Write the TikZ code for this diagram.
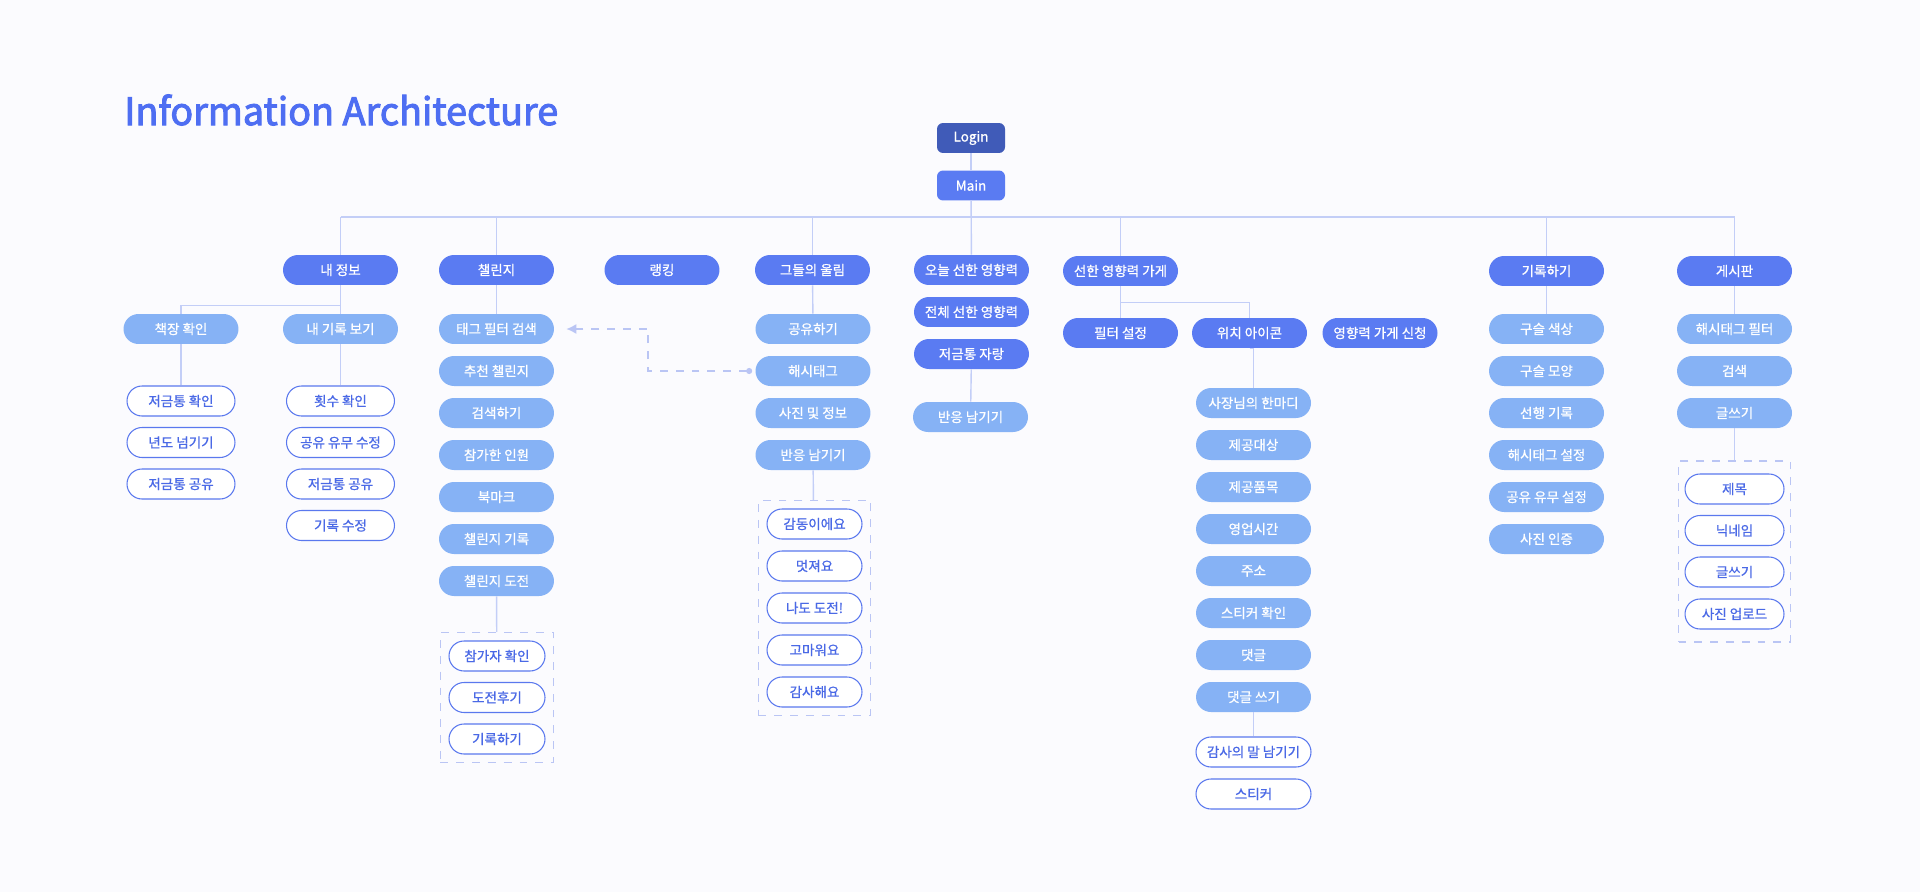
\documentclass[tikz,border=0pt]{standalone}
\usepackage{fontspec}
\setmainfont{Noto Sans CJK KR}
\newfontfamily\iafont[FakeBold=0.8]{Noto Sans CJK KR}
\newfontfamily\iatitlefont[FakeBold=2.6]{Noto Sans CJK KR}
\usetikzlibrary{arrows.meta,fit}

\definecolor{iabg}{HTML}{FBFBFE}
\definecolor{iatitle}{HTML}{4E6EF2}
\definecolor{ialogin}{HTML}{405BB8}
\definecolor{iadark}{HTML}{5A7BF2}
\definecolor{ialight}{HTML}{86B2F5}
\definecolor{iaout}{HTML}{5A78EE}
\definecolor{iaouttext}{HTML}{4A69E6}
\definecolor{ialink}{HTML}{C3CEF7}
\definecolor{iagroup}{HTML}{BAC5F4}

\tikzset{
  pill/.style={rounded corners=0.3cm, minimum width=2.3cm, minimum height=0.6cm,
    inner sep=0pt, font=\iafont\fontsize{7.7}{9}\selectfont},
  darkpill/.style={pill, fill=iadark, text=white},
  lightpill/.style={pill, fill=ialight, text=white},
  outpill/.style={pill, draw=iaout, line width=0.6pt, fill=white, text=iaouttext},
  topbox/.style={pill, rounded corners=0.12cm, minimum width=1.36cm, text=white},
  link/.style={draw=ialink, line width=0.8pt},
  groupbox/.style={draw=iagroup, line width=0.8pt, dash pattern=on 4.5pt off 4.5pt, inner sep=0.16cm},
}

\begin{document}
\begin{tikzpicture}[x=0.02cm,y=-0.02cm]
  \fill[iabg] (0,0) rectangle (1920,892);
  \useasboundingbox (0,0) rectangle (1920,892);

  \node[anchor=west, inner sep=0pt, text=iatitle, font=\iatitlefont\fontsize{21.5}{24}\selectfont] (title) at (124,110) {Information Architecture};

  % top
  \node[topbox, fill=ialogin] (login) at (971,138) {Login};
  \node[topbox, fill=iadark] (main) at (971,185.5) {Main};

  % first level
  \node[darkpill] (myinfo) at (340.5,270) {내 정보};
  \node[darkpill] (challenge) at (496.5,270) {챌린지};
  \node[darkpill] (ranking) at (662,270) {랭킹};
  \node[darkpill] (echo) at (812.5,270) {그들의 울림};
  \node[darkpill] (today) at (971.5,270) {오늘 선한 영향력};
  \node[darkpill] (store) at (1120.5,271) {선한 영향력 가게};
  \node[darkpill] (record) at (1546.5,271) {기록하기};
  \node[darkpill] (board) at (1734.5,271) {게시판};

  % 내 정보
  \node[lightpill] (shelf) at (181,329) {책장 확인};
  \node[lightpill] (myrec) at (340.5,329) {내 기록 보기};
  \node[outpill, minimum width=2.16cm] (piggy) at (181,401) {저금통 확인};
  \node[outpill, minimum width=2.16cm] (year) at (181,442.5) {년도 넘기기};
  \node[outpill, minimum width=2.16cm] (piggyshare) at (181,484) {저금통 공유};
  \node[outpill, minimum width=2.16cm] (count) at (340.5,401) {횟수 확인};
  \node[outpill, minimum width=2.16cm] (shareedit) at (340.5,442.5) {공유 유무 수정};
  \node[outpill, minimum width=2.16cm] (piggyshare2) at (340.5,484) {저금통 공유};
  \node[outpill, minimum width=2.16cm] (recedit) at (340.5,525.5) {기록 수정};

  % 챌린지
  \node[lightpill] (tagfilter) at (496.5,329) {태그 필터 검색};
  \node[lightpill] (recommend) at (496.5,371) {추천 챌린지};
  \node[lightpill] (searchdo) at (496.5,413) {검색하기};
  \node[lightpill] (joined) at (496.5,455) {참가한 인원};
  \node[lightpill] (bookmark) at (496.5,497) {북마크};
  \node[lightpill] (challrec) at (496.5,539) {챌린지 기록};
  \node[lightpill] (challtry) at (496.5,581) {챌린지 도전};
  \node[outpill, minimum width=1.92cm] (joincheck) at (497,656) {참가자 확인};
  \node[outpill, minimum width=1.92cm] (review) at (497,697.5) {도전후기};
  \node[outpill, minimum width=1.92cm] (dorecord) at (497,739) {기록하기};
  \node[groupbox, fit=(joincheck)(dorecord)] (trygroup) {};

  % 그들의 울림
  \node[lightpill] (share) at (813,329) {공유하기};
  \node[lightpill] (hashtag) at (813,371) {해시태그};
  \node[lightpill] (photo) at (813,413) {사진 및 정보};
  \node[lightpill] (react) at (813,455) {반응 남기기};
  \node[outpill, minimum width=1.9cm] (touched) at (814.5,524) {감동이에요};
  \node[outpill, minimum width=1.9cm] (cool) at (814.5,566) {멋져요};
  \node[outpill, minimum width=1.9cm] (metoo) at (814.5,608) {나도 도전!};
  \node[outpill, minimum width=1.9cm] (thankyou) at (814.5,650) {고마워요};
  \node[outpill, minimum width=1.9cm] (grateful) at (814.5,692) {감사해요};
  \node[groupbox, fit=(touched)(grateful)] (reactgroup) {};

  % 오늘 선한 영향력
  \node[darkpill] (total) at (971.5,312) {전체 선한 영향력};
  \node[darkpill] (piggyshow) at (971.5,354) {저금통 자랑};
  \node[lightpill] (react2) at (970.5,417) {반응 남기기};

  % 선한 영향력 가게
  \node[darkpill] (filter) at (1120.5,333) {필터 설정};
  \node[darkpill] (location) at (1249.5,333) {위치 아이콘};
  \node[darkpill] (apply) at (1380,333) {영향력 가게 신청};
  \node[lightpill] (ceo) at (1253.5,403) {사장님의 한마디};
  \node[lightpill] (target) at (1253.5,445) {제공대상};
  \node[lightpill] (item) at (1253.5,487) {제공품목};
  \node[lightpill] (hours) at (1253.5,529) {영업시간};
  \node[lightpill] (address) at (1253.5,571) {주소};
  \node[lightpill] (stickercheck) at (1253.5,613) {스티커 확인};
  \node[lightpill] (comment) at (1253.5,655) {댓글};
  \node[lightpill] (cwrite) at (1253.5,697) {댓글 쓰기};
  \node[outpill] (thanksword) at (1253.5,752) {감사의 말 남기기};
  \node[outpill] (sticker) at (1253.5,794) {스티커};

  % 기록하기
  \node[lightpill] (beadcolor) at (1546.5,329) {구슬 색상};
  \node[lightpill] (beadshape) at (1546.5,371) {구슬 모양};
  \node[lightpill] (deed) at (1546.5,413) {선행 기록};
  \node[lightpill] (tagset) at (1546.5,455) {해시태그 설정};
  \node[lightpill] (shareset) at (1546.5,497) {공유 유무 설정};
  \node[lightpill] (photoauth) at (1546.5,539) {사진 인증};

  % 게시판
  \node[lightpill] (hashfilter) at (1734.5,329) {해시태그 필터};
  \node[lightpill] (search) at (1734.5,371) {검색};
  \node[lightpill] (write) at (1734.5,413) {글쓰기};
  \node[outpill, minimum width=1.98cm] (posttitle) at (1734.5,489) {제목};
  \node[outpill, minimum width=1.98cm] (nick) at (1734.5,530.5) {닉네임};
  \node[outpill, minimum width=1.98cm] (write2) at (1734.5,572) {글쓰기};
  \node[outpill, minimum width=1.98cm] (upload) at (1734.5,614) {사진 업로드};
  \node[groupbox, inner xsep=0.12cm, inner ysep=0.25cm, fit=(posttitle)(upload)] (writegroup) {};

  % connectors
  \coordinate (barleft) at (340.5,217);
  \coordinate (barright) at (1734.5,217);
  \draw[link] (barleft) -- (barright);
  \draw[link] (login) -- (main);
  \draw[link] (main) -- (today);
  \foreach \n in {myinfo,challenge,echo,store,record,board}
    \draw[link] (\n.north) -- (\n.north |- barleft);

  \draw[link] (myinfo) -- (myrec);
  \draw[link] (myinfo.south) -- ++(0,20) -| (shelf.north);
  \draw[link] (shelf) -- (piggy);
  \draw[link] (myrec) -- (count);
  \draw[link] (challenge) -- (tagfilter);
  \draw[link] (challtry) -- (trygroup);
  \draw[link] (echo) -- (share);
  \draw[link] (react) -- (reactgroup);
  \draw[link] (piggyshow) -- (react2);
  \draw[link] (store) -- (filter);
  \draw[link] (store.south) -- ++(0,16) -| (location.north);
  \draw[link] (location.south) -- (location.south -| ceo.north) -- (ceo.north);
  \draw[link] (cwrite) -- (thanksword);
  \draw[link] (record) -- (beadcolor);
  \draw[link] (board) -- (hashfilter);
  \draw[link] (write) -- (writegroup);

  \draw[draw=iagroup, line width=0.8pt, dash pattern=on 4.5pt off 4.5pt,
    {Circle[length=0.12cm,fill=iagroup]}-{Latex[length=0.2cm,width=0.2cm,fill=iagroup]},
    shorten <=0.06cm, shorten >=0.24cm]
    (hashtag.west) -- ++(-107,0) |- (tagfilter.east);
\end{tikzpicture}
\end{document}
